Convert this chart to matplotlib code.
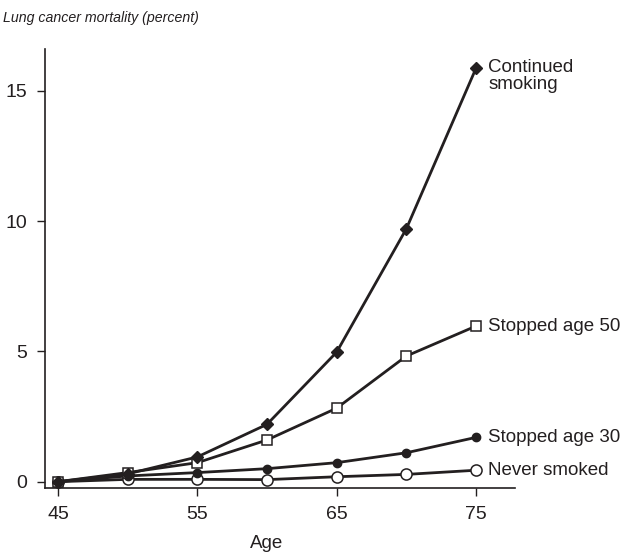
import matplotlib
matplotlib.use("Agg")
import matplotlib.pyplot as plt

plt.rcParams['font.family'] = ['Liberation Sans Narrow', 'Liberation Sans', 'DejaVu Sans']

ages = [45, 50, 55, 60, 65, 70, 75]
continued = [0.0, 0.3, 0.95, 2.2, 4.97, 9.7, 15.86]
stopped_50 = [0.0, 0.35, 0.73, 1.6, 2.82, 4.82, 5.97]
stopped_30 = [0.0, 0.22, 0.35, 0.5, 0.73, 1.11, 1.7]
never = [0.0, 0.09, 0.09, 0.08, 0.19, 0.28, 0.44]

series_labels = ["Continued\nsmoking", "Stopped age 50", "Stopped age 30", "Never smoked"]
x_ticks = [45, 55, 65, 75]
y_ticks = [0, 5, 10, 15]

ink = "#231f20"

fig = plt.figure(figsize=(6.21, 5.57), dpi=100)
ax = fig.add_axes([45 / 621, 1 - 487.7 / 557, 470 / 621, (487.7 - 49) / 557])

styles = [
    dict(marker="D", ms=6, mfc=ink, mec=ink),
    dict(marker="s", ms=7, mfc="white", mec=ink, mew=1.1),
    dict(marker="o", ms=6, mfc=ink, mec=ink),
    dict(marker="o", ms=8, mfc="white", mec=ink, mew=1.1),
]
all_series = [continued, stopped_50, stopped_30, never]

# draw from bottom to top so the upper curves sit on top
for vals, st, lab in reversed(list(zip(all_series, styles, series_labels))):
    ax.plot(ages, vals, color=ink, lw=2.0, zorder=3, clip_on=False, **st)
    va = "top" if "\n" in lab else "center"
    dy = 7 if "\n" in lab else 0
    ax.annotate(lab, (ages[-1], vals[-1]), xytext=(9, dy), textcoords="offset points",
                ha="left", va=va, fontsize=13.5, color=ink, linespacing=1.0,
                annotation_clip=False)

ax.set_xlim(44.07, 77.8)
ax.set_ylim(-0.23, 16.6)
ax.set_xticks(x_ticks)
ax.set_yticks(y_ticks)
ax.tick_params(direction="out", length=6, width=1, colors=ink, labelsize=14, pad=7)

for side in ["top", "right"]:
    ax.spines[side].set_visible(False)
for side in ["left", "bottom"]:
    ax.spines[side].set_linewidth(1.2)
    ax.spines[side].set_color(ink)

fig.text(3 / 621, 1 - 18 / 557, "Lung cancer mortality (percent)", style="italic",
         fontsize=10.2, color=ink, va="center", ha="left")
fig.text(267 / 621, 1 - 543 / 557, "Age", fontsize=13.5, color=ink, ha="center", va="center")

fig.savefig("out.png", dpi=100)
